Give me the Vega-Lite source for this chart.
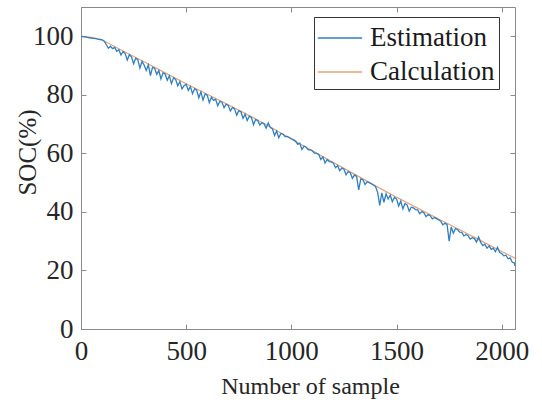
{
  "$schema": "https://vega.github.io/schema/vega-lite/v6.json",
  "width": 434,
  "height": 322,
  "autosize": "none",
  "padding": {"left": 81, "top": 7, "right": 27, "bottom": 75},
  "background": "white",
  "config": {
    "view": {"stroke": "#8a8a8a", "strokeWidth": 1},
    "font": "Liberation Serif",
    "axis": {"labelFont": "Liberation Serif", "titleFont": "Liberation Serif", "labelColor": "#262626", "titleColor": "#262626", "titleFontWeight": "normal", "domainColor": "#8a8a8a", "tickColor": "#8a8a8a", "grid": false}
  },
  "datasets": {
    "calc": [
      {"x": 0, "soc": 100}, {"x": 50, "soc": 99.6}, {"x": 100, "soc": 98.8}, {"x": 130, "soc": 97.6}, {"x": 200, "soc": 95.0}, {"x": 300, "soc": 91.3}, {"x": 400, "soc": 87.5}, {"x": 500, "soc": 83.8}, {"x": 600, "soc": 80.2}, {"x": 700, "soc": 76.6}, {"x": 800, "soc": 72.9}, {"x": 900, "soc": 69.0}, {"x": 1000, "soc": 64.9}, {"x": 1100, "soc": 60.9}, {"x": 1200, "soc": 56.9}, {"x": 1300, "soc": 52.9}, {"x": 1400, "soc": 48.9}, {"x": 1500, "soc": 45.0}, {"x": 1600, "soc": 41.3}, {"x": 1700, "soc": 37.6}, {"x": 1800, "soc": 33.9}, {"x": 1900, "soc": 30.2}, {"x": 2000, "soc": 26.5}, {"x": 2063, "soc": 24.2}
    ],
    "est": [
      {"x":0,"soc":100},{"x":10,"soc":99.9},{"x":20,"soc":99.8},{"x":30,"soc":99.6},{"x":40,"soc":99.5},{"x":50,"soc":99.4},{"x":60,"soc":99.3},{"x":70,"soc":99.2},{"x":80,"soc":99.0},{"x":90,"soc":98.9},
      {"x":100,"soc":98.8},{"x":110,"soc":98.3},{"x":120,"soc":97.2},{"x":130,"soc":95.9},{"x":140,"soc":96.6},{"x":150,"soc":95.8},{"x":160,"soc":96.2},{"x":170,"soc":94.9},{"x":180,"soc":95.4},{"x":190,"soc":93.6},
      {"x":200,"soc":94.8},{"x":210,"soc":94.1},{"x":220,"soc":91.9},{"x":230,"soc":93.7},{"x":240,"soc":93.0},{"x":250,"soc":90.6},{"x":260,"soc":92.5},{"x":270,"soc":92.0},{"x":280,"soc":89.1},{"x":290,"soc":91.4},
      {"x":300,"soc":90.2},{"x":310,"soc":88.3},{"x":320,"soc":90.2},{"x":330,"soc":86.6},{"x":340,"soc":89.4},{"x":350,"soc":89.1},{"x":360,"soc":87.0},{"x":370,"soc":88.3},{"x":380,"soc":85.4},{"x":390,"soc":87.5},
      {"x":400,"soc":87.1},{"x":410,"soc":85.0},{"x":420,"soc":86.5},{"x":430,"soc":83.8},{"x":440,"soc":85.8},{"x":450,"soc":85.2},{"x":460,"soc":83.1},{"x":470,"soc":84.5},{"x":480,"soc":82.0},{"x":490,"soc":83.1},
      {"x":500,"soc":83.6},{"x":510,"soc":81.5},{"x":520,"soc":82.8},{"x":530,"soc":80.4},{"x":540,"soc":82.1},{"x":550,"soc":81.6},{"x":560,"soc":79.0},{"x":570,"soc":81.0},{"x":580,"soc":78.2},{"x":590,"soc":80.3},
      {"x":600,"soc":79.9},{"x":610,"soc":77.3},{"x":620,"soc":79.2},{"x":630,"soc":78.1},{"x":640,"soc":78.5},{"x":650,"soc":76.3},{"x":660,"soc":77.8},{"x":670,"soc":77.5},{"x":680,"soc":75.6},{"x":690,"soc":76.8},
      {"x":700,"soc":76.4},{"x":710,"soc":74.5},{"x":720,"soc":75.7},{"x":730,"soc":75.2},{"x":740,"soc":73.0},{"x":750,"soc":74.6},{"x":760,"soc":74.2},{"x":770,"soc":72.0},{"x":780,"soc":73.4},{"x":790,"soc":71.2},
      {"x":800,"soc":72.7},{"x":810,"soc":72.3},{"x":820,"soc":69.8},{"x":830,"soc":71.6},{"x":840,"soc":71.2},{"x":850,"soc":69.7},{"x":860,"soc":70.5},{"x":870,"soc":70.1},{"x":880,"soc":68.6},{"x":890,"soc":70.4},
      {"x":900,"soc":68.8},{"x":910,"soc":68.4},{"x":920,"soc":66.1},{"x":930,"soc":67.6},{"x":940,"soc":65.3},{"x":950,"soc":66.8},{"x":960,"soc":66.6},{"x":970,"soc":65.7},{"x":980,"soc":65.8},{"x":990,"soc":65.4},
      {"x":1000,"soc":65.0},{"x":1010,"soc":64.6},{"x":1020,"soc":64.2},{"x":1030,"soc":63.1},{"x":1040,"soc":63.5},{"x":1050,"soc":61.3},{"x":1060,"soc":62.5},{"x":1070,"soc":62.1},{"x":1080,"soc":61.2},{"x":1090,"soc":61.3},
      {"x":1100,"soc":60.8},{"x":1110,"soc":60.1},{"x":1120,"soc":60.0},{"x":1130,"soc":59.6},{"x":1140,"soc":57.9},{"x":1150,"soc":58.8},{"x":1160,"soc":56.7},{"x":1170,"soc":57.9},{"x":1180,"soc":57.2},{"x":1190,"soc":57.1},
      {"x":1200,"soc":56.6},{"x":1210,"soc":55.1},{"x":1220,"soc":55.8},{"x":1230,"soc":54.1},{"x":1240,"soc":55.0},{"x":1250,"soc":54.6},{"x":1260,"soc":52.7},{"x":1270,"soc":53.8},{"x":1280,"soc":53.4},{"x":1290,"soc":51.5},
      {"x":1300,"soc":52.6},{"x":1310,"soc":52.1},{"x":1320,"soc":47.5},{"x":1330,"soc":51.3},{"x":1340,"soc":51.0},{"x":1350,"soc":49.4},{"x":1360,"soc":50.3},{"x":1370,"soc":50.0},{"x":1380,"soc":49.6},{"x":1390,"soc":49.2},
      {"x":1400,"soc":48.7},{"x":1410,"soc":46.7},{"x":1420,"soc":42.2},{"x":1430,"soc":46.5},{"x":1440,"soc":43.3},{"x":1450,"soc":46.2},{"x":1460,"soc":44.4},{"x":1470,"soc":45.7},{"x":1480,"soc":43.5},{"x":1490,"soc":45.0},
      {"x":1500,"soc":44.4},{"x":1510,"soc":42.0},{"x":1520,"soc":43.7},{"x":1530,"soc":41.0},{"x":1540,"soc":42.9},{"x":1550,"soc":42.4},{"x":1560,"soc":40.3},{"x":1570,"soc":41.6},{"x":1580,"soc":41.4},{"x":1590,"soc":40.8},
      {"x":1600,"soc":40.7},{"x":1610,"soc":39.4},{"x":1620,"soc":40.1},{"x":1630,"soc":39.7},{"x":1640,"soc":38.4},{"x":1650,"soc":39.1},{"x":1660,"soc":38.7},{"x":1670,"soc":37.6},{"x":1680,"soc":38.1},{"x":1690,"soc":37.7},
      {"x":1700,"soc":37.3},{"x":1710,"soc":36.8},{"x":1720,"soc":35.6},{"x":1730,"soc":36.1},{"x":1740,"soc":35.7},{"x":1750,"soc":30.0},{"x":1760,"soc":34.9},{"x":1770,"soc":32.7},{"x":1780,"soc":34.3},{"x":1790,"soc":34.0},
      {"x":1800,"soc":33.1},{"x":1810,"soc":33.0},{"x":1820,"soc":31.8},{"x":1830,"soc":32.3},{"x":1840,"soc":31.9},{"x":1850,"soc":30.7},{"x":1860,"soc":31.2},{"x":1870,"soc":30.9},{"x":1880,"soc":29.7},{"x":1890,"soc":31.4},
      {"x":1900,"soc":29.6},{"x":1910,"soc":28.5},{"x":1920,"soc":29.0},{"x":1930,"soc":27.6},{"x":1940,"soc":28.4},{"x":1950,"soc":27.2},{"x":1960,"soc":27.6},{"x":1970,"soc":26.4},{"x":1980,"soc":27.9},{"x":1990,"soc":26.1},
      {"x":2000,"soc":25.8},{"x":2010,"soc":25.0},{"x":2020,"soc":25.2},{"x":2030,"soc":24.0},{"x":2040,"soc":24.3},{"x":2050,"soc":22.8},{"x":2060,"soc":22.6},{"x":2063,"soc":21.5}
    ]
  },
  "layer": [
    {
      "data": {"name": "calc"},
      "transform": [{"calculate": "'Calculation'", "as": "series"}],
      "mark": {"type": "line", "strokeWidth": 1.2, "clip": true},
      "encoding": {
        "x": {"field": "x", "type": "quantitative", "scale": {"domain": [0, 2063], "nice": false, "zero": false},
          "axis": {"orient": "bottom", "values": [0, 500, 1000, 1500, 2000], "format": "d", "title": "Number of sample", "labelFontSize": 27, "titleFontSize": 24, "tickSize": -5, "labelPadding": 14, "labelFlush": false, "titleX": 229, "titleY": 64, "titleBaseline": "alphabetic", "titleAlign": "center"}},
        "y": {"field": "soc", "type": "quantitative", "scale": {"domain": [0, 110], "nice": false},
          "axis": {"orient": "left", "values": [0, 20, 40, 60, 80, 100], "title": "SOC(%)", "labelFontSize": 27, "titleFontSize": 25, "tickSize": -5, "labelPadding": 13, "labelFlush": false, "titleX": -46, "titleY": 145, "titleAngle": -90, "titleBaseline": "alphabetic", "titleAlign": "center"}},
        "color": {"field": "series", "type": "nominal",
          "scale": {"domain": ["Estimation", "Calculation"], "range": ["#2f7fc1", "#e6a27c"]},
          "legend": {"orient": "none", "legendX": 233, "legendY": 10, "title": null, "symbolType": "M-1.4,0H1.4", "symbolSize": 1000, "symbolOffset": 5, "symbolStrokeWidth": 1.5, "labelFont": "Liberation Serif", "labelFontSize": 27, "labelColor": "#1a1a1a", "labelOffset": 13, "padding": 4, "strokeColor": "#333333", "fillColor": "white", "rowPadding": 4, "labelLimit": 300}}
      }
    },
    {
      "data": {"name": "est"},
      "transform": [{"calculate": "'Estimation'", "as": "series"}],
      "mark": {"type": "line", "strokeWidth": 1.3, "clip": true},
      "encoding": {
        "x": {"field": "x", "type": "quantitative",
          "axis": {"orient": "top", "values": [0, 500, 1000, 1500, 2000], "labels": false, "title": null, "tickSize": -5, "domain": false}},
        "y": {"field": "soc", "type": "quantitative",
          "axis": {"orient": "right", "values": [0, 20, 40, 60, 80, 100], "labels": false, "title": null, "tickSize": -5, "domain": false}},
        "color": {"field": "series", "type": "nominal"}
      }
    }
  ],
  "resolve": {"axis": {"x": "independent", "y": "independent"}}
}
